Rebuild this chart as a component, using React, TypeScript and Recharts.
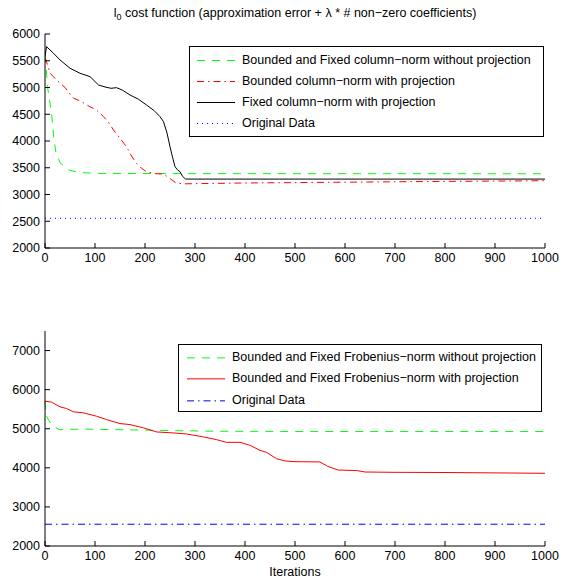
import React from 'react';
import { LineChart, Line, XAxis, YAxis, Legend } from 'recharts';

const FONT = '"Liberation Sans", Arial, Helvetica, sans-serif';
const FS = 12.5;

// ---------- tick labels ----------
const iterTicks = [0, 100, 200, 300, 400, 500, 600, 700, 800, 900, 1000];
const topCostTicks = [2000, 2500, 3000, 3500, 4000, 4500, 5000, 5500, 6000];
const bottomCostTicks = [2000, 3000, 4000, 5000, 6000, 7000];

// ---------- top panel series ----------
const boundedFixedColIter = [0, 2, 5, 13, 18, 22, 30, 50, 70, 110, 300, 1000];
const boundedFixedColCost = [5608, 5400, 5017, 4526, 4022, 3780, 3593, 3450, 3410, 3395, 3390, 3388];

const boundedColIter = [0, 3, 10, 17, 23, 40, 57, 70, 90, 103, 117, 127, 137, 150, 163, 173, 183, 193, 203, 220, 237, 250, 263, 280, 400, 600, 800, 1000];
const boundedColCost = [5552, 5483, 5272, 5200, 5140, 5000, 4800, 4750, 4640, 4578, 4455, 4350, 4206, 4050, 3893, 3720, 3583, 3490, 3426, 3390, 3383, 3300, 3209, 3200, 3215, 3230, 3245, 3257];

const fixedColIter = [0, 3, 8, 17, 30, 50, 70, 90, 107, 120, 132, 143, 155, 170, 187, 203, 218, 230, 237, 244, 250, 255, 260, 265, 270, 275, 281, 290, 400, 600, 800, 1000];
const fixedColCost = [5576, 5763, 5720, 5640, 5515, 5360, 5266, 5203, 5047, 5010, 4985, 4997, 4950, 4860, 4780, 4673, 4570, 4455, 4361, 4150, 3893, 3700, 3520, 3460, 3426, 3340, 3290, 3288, 3288, 3288, 3288, 3288];

const originalTopIter = [0, 1000];
const originalTopCost = [2555, 2555];

// ---------- bottom panel series ----------
const frobNoProjIter = [0, 2, 8, 17, 30, 50, 80, 140, 200, 260, 350, 500, 1000];
const frobNoProjCost = [5700, 5350, 5200, 5056, 4975, 4985, 4990, 4975, 4965, 4950, 4935, 4930, 4930];

const frobProjIter = [0, 13, 30, 43, 57, 77, 103, 123, 150, 170, 197, 223, 257, 283, 317, 343, 363, 390, 410, 430, 443, 463, 480, 500, 550, 565, 586, 623, 640, 700, 800, 900, 1000];
const frobProjCost = [5706, 5680, 5561, 5517, 5432, 5406, 5320, 5234, 5132, 5106, 5021, 4918, 4892, 4866, 4790, 4721, 4652, 4652, 4575, 4447, 4395, 4234, 4175, 4158, 4150, 4040, 3944, 3930, 3893, 3885, 3880, 3870, 3860];

const originalBottomIter = [0, 1000];
const originalBottomCost = [2557, 2557];

// ---------- names ----------
const topNames = [
  'Bounded and Fixed column\u2212norm without projection',
  'Bounded column\u2212norm with projection',
  'Fixed column\u2212norm with projection',
  'Original Data',
];
const bottomNames = [
  'Bounded and Fixed Frobenius\u2212norm without projection',
  'Bounded and Fixed Frobenius\u2212norm with projection',
  'Original Data',
];

const zip = (xs: number[], ys: number[]) => xs.map((x, i) => ({ x, y: ys[i] }));

const DASH = '8 7';
const DASHDOT = '7 4 1.5 4';
const DOT = '1 4';

type Series = { name: string; data: { x: number; y: number }[]; color: string; dash?: string };

const topSeries: Series[] = [
  { name: topNames[0], data: zip(boundedFixedColIter, boundedFixedColCost), color: '#00ff00', dash: DASH },
  { name: topNames[1], data: zip(boundedColIter, boundedColCost), color: '#ff0000', dash: DASHDOT },
  { name: topNames[2], data: zip(fixedColIter, fixedColCost), color: '#000000', dash: undefined },
  { name: topNames[3], data: zip(originalTopIter, originalTopCost), color: '#0000ff', dash: DOT },
];
const bottomSeries: Series[] = [
  { name: bottomNames[0], data: zip(frobNoProjIter, frobNoProjCost), color: '#00ff00', dash: DASH },
  { name: bottomNames[1], data: zip(frobProjIter, frobProjCost), color: '#ff0000', dash: undefined },
  { name: bottomNames[2], data: zip(originalBottomIter, originalBottomCost), color: '#0000ff', dash: DASHDOT },
];

const M = 5; // tick margin
const TL = 5; // inward tick length

const LeftTick = (p: any) => {
  const { x, y, payload } = p;
  const ax = x + M;
  return (
    <g>
      <line x1={ax} x2={ax + TL} y1={y} y2={y} stroke="#000" strokeWidth={1} />
      <text x={x} y={y} dy="0.35em" textAnchor="end" fill="#000" fontSize={FS} fontFamily={FONT}>
        {payload.value}
      </text>
    </g>
  );
};
const RightTick = (p: any) => {
  const { x, y } = p;
  const ax = x - M;
  return <line x1={ax} x2={ax - TL} y1={y} y2={y} stroke="#000" strokeWidth={1} />;
};
const BottomTick = (p: any) => {
  const { x, y, payload } = p;
  const ay = y - M;
  return (
    <g>
      <line x1={x} x2={x} y1={ay} y2={ay - TL} stroke="#000" strokeWidth={1} />
      <text x={x} y={y} dy="0.75em" textAnchor="middle" fill="#000" fontSize={FS} fontFamily={FONT}>
        {payload.value}
      </text>
    </g>
  );
};
const TopTick = (p: any) => {
  const { x, y } = p;
  const ay = y + M;
  return <line x1={x} x2={x} y1={ay} y2={ay + TL} stroke="#000" strokeWidth={1} />;
};

type Box = { w: number; h: number; pt: number; rowH: number; s0: number; s1: number; tx: number };

const makeLegend = (box: Box, series: Series[]) => () => (
  <div
    style={{
      width: box.w,
      height: box.h,
      border: '1px solid #000',
      background: '#fff',
      boxSizing: 'border-box',
      paddingTop: box.pt,
      fontFamily: FONT,
      fontSize: FS,
      color: '#000',
      overflow: 'visible',
    }}
  >
    {series.map((s, i) => (
      <div key={i} style={{ position: 'relative', height: box.rowH, whiteSpace: 'nowrap' }}>
        <svg width={box.s1 + 2} height={box.rowH} style={{ position: 'absolute', left: 0, top: 0 }}>
          <line
            x1={box.s0}
            x2={box.s1}
            y1={box.rowH / 2}
            y2={box.rowH / 2}
            stroke={s.color}
            strokeWidth={1}
            strokeDasharray={s.dash}
          />
        </svg>
        <span style={{ position: 'absolute', left: box.tx, top: 0, lineHeight: `${box.rowH}px` }}>{s.name}</span>
      </div>
    ))}
  </div>
);

const topLegendBox: Box = { w: 355, h: 91, pt: 2.5, rowH: 21, s0: 7, s1: 45, tx: 52 };
const bottomLegendBox: Box = { w: 364, h: 68, pt: 1.5, rowH: 21.7, s0: 8, s1: 46, tx: 53 };

export default function App() {
  return (
    <div style={{ position: 'absolute', left: 0, top: 0, width: 567, height: 578, background: '#fff' }}>
      <div
        style={{
          position: 'absolute',
          left: 45,
          top: 5,
          width: 500,
          textAlign: 'center',
          fontFamily: FONT,
          fontSize: FS,
          lineHeight: '16px',
          color: '#000',
          whiteSpace: 'nowrap',
          zIndex: 2,
        }}
      >
        l<span style={{ fontSize: 9, position: 'relative', top: 3 }}>0</span> cost function (approximation error +{' '}
        {'\u03bb'} * # non{'\u2212'}zero coefficients)
      </div>
      <div style={{ position: 'absolute', left: 0, top: 0 }}>
        <LineChart width={567} height={290} margin={{ top: 34, right: 22, bottom: 0, left: 0 }}>
          <XAxis
            dataKey="x"
            type="number"
            domain={[0, 1000]}
            ticks={iterTicks}
            interval={0}
            height={42}
            tickSize={0}
            tickMargin={M}
            tickLine={false}
            tick={<BottomTick />}
            axisLine={{ stroke: '#000' }}
            allowDataOverflow
          />
          <XAxis
            xAxisId="t"
            orientation="top"
            dataKey="x"
            type="number"
            domain={[0, 1000]}
            ticks={iterTicks}
            interval={0}
            height={0}
            tickSize={0}
            tickMargin={M}
            tickLine={false}
            tick={<TopTick />}
            axisLine={{ stroke: '#000' }}
          />
          <YAxis
            type="number"
            domain={[2000, 6000]}
            ticks={topCostTicks}
            interval={0}
            width={45}
            tickSize={0}
            tickMargin={M}
            tickLine={false}
            tick={<LeftTick />}
            axisLine={{ stroke: '#000' }}
            allowDataOverflow
          />
          <YAxis
            yAxisId="r"
            orientation="right"
            type="number"
            domain={[2000, 6000]}
            ticks={topCostTicks}
            interval={0}
            width={0}
            tickSize={0}
            tickMargin={M}
            tickLine={false}
            tick={<RightTick />}
            axisLine={{ stroke: '#000' }}
          />
          {topSeries.map((s) => (
            <Line
              key={s.name}
              data={s.data}
              dataKey="y"
              name={s.name}
              type="linear"
              stroke={s.color}
              strokeWidth={1}
              strokeDasharray={s.dash}
              dot={false}
              activeDot={false}
              legendType="line"
              isAnimationActive={false}
            />
          ))}
          <Legend
            layout="horizontal"
            verticalAlign="middle"
            align="center"
            content={makeLegend(topLegendBox, topSeries)}
            wrapperStyle={{ left: 189, top: 46, width: topLegendBox.w, height: topLegendBox.h }}
          />
        </LineChart>
      </div>
      <div style={{ position: 'absolute', left: 0, top: 290 }}>
        <LineChart width={567} height={288} margin={{ top: 41, right: 22, bottom: 0, left: 0 }}>
          <XAxis
            dataKey="x"
            type="number"
            domain={[0, 1000]}
            ticks={iterTicks}
            interval={0}
            height={32}
            tickSize={0}
            tickMargin={M}
            tickLine={false}
            tick={<BottomTick />}
            axisLine={{ stroke: '#000' }}
            label={{ value: 'Iterations', position: 'insideBottom', offset: 2, fill: '#000', fontSize: FS, fontFamily: FONT }}
          />
          <XAxis
            xAxisId="t"
            orientation="top"
            dataKey="x"
            type="number"
            domain={[0, 1000]}
            ticks={iterTicks}
            interval={0}
            height={0}
            tickSize={0}
            tickMargin={M}
            tickLine={false}
            tick={<TopTick />}
            axisLine={{ stroke: '#000' }}
          />
          <YAxis
            type="number"
            domain={[2000, 7500]}
            ticks={bottomCostTicks}
            interval={0}
            width={45}
            tickSize={0}
            tickMargin={M}
            tickLine={false}
            tick={<LeftTick />}
            axisLine={{ stroke: '#000' }}
          />
          <YAxis
            yAxisId="r"
            orientation="right"
            type="number"
            domain={[2000, 7500]}
            ticks={bottomCostTicks}
            interval={0}
            width={0}
            tickSize={0}
            tickMargin={M}
            tickLine={false}
            tick={<RightTick />}
            axisLine={{ stroke: '#000' }}
          />
          {bottomSeries.map((s) => (
            <Line
              key={s.name}
              data={s.data}
              dataKey="y"
              name={s.name}
              type="linear"
              stroke={s.color}
              strokeWidth={1}
              strokeDasharray={s.dash}
              dot={false}
              activeDot={false}
              legendType="line"
              isAnimationActive={false}
            />
          ))}
          <Legend
            layout="horizontal"
            verticalAlign="middle"
            align="center"
            content={makeLegend(bottomLegendBox, bottomSeries)}
            wrapperStyle={{ left: 178, top: 54, width: bottomLegendBox.w, height: bottomLegendBox.h }}
          />
        </LineChart>
      </div>
    </div>
  );
}
